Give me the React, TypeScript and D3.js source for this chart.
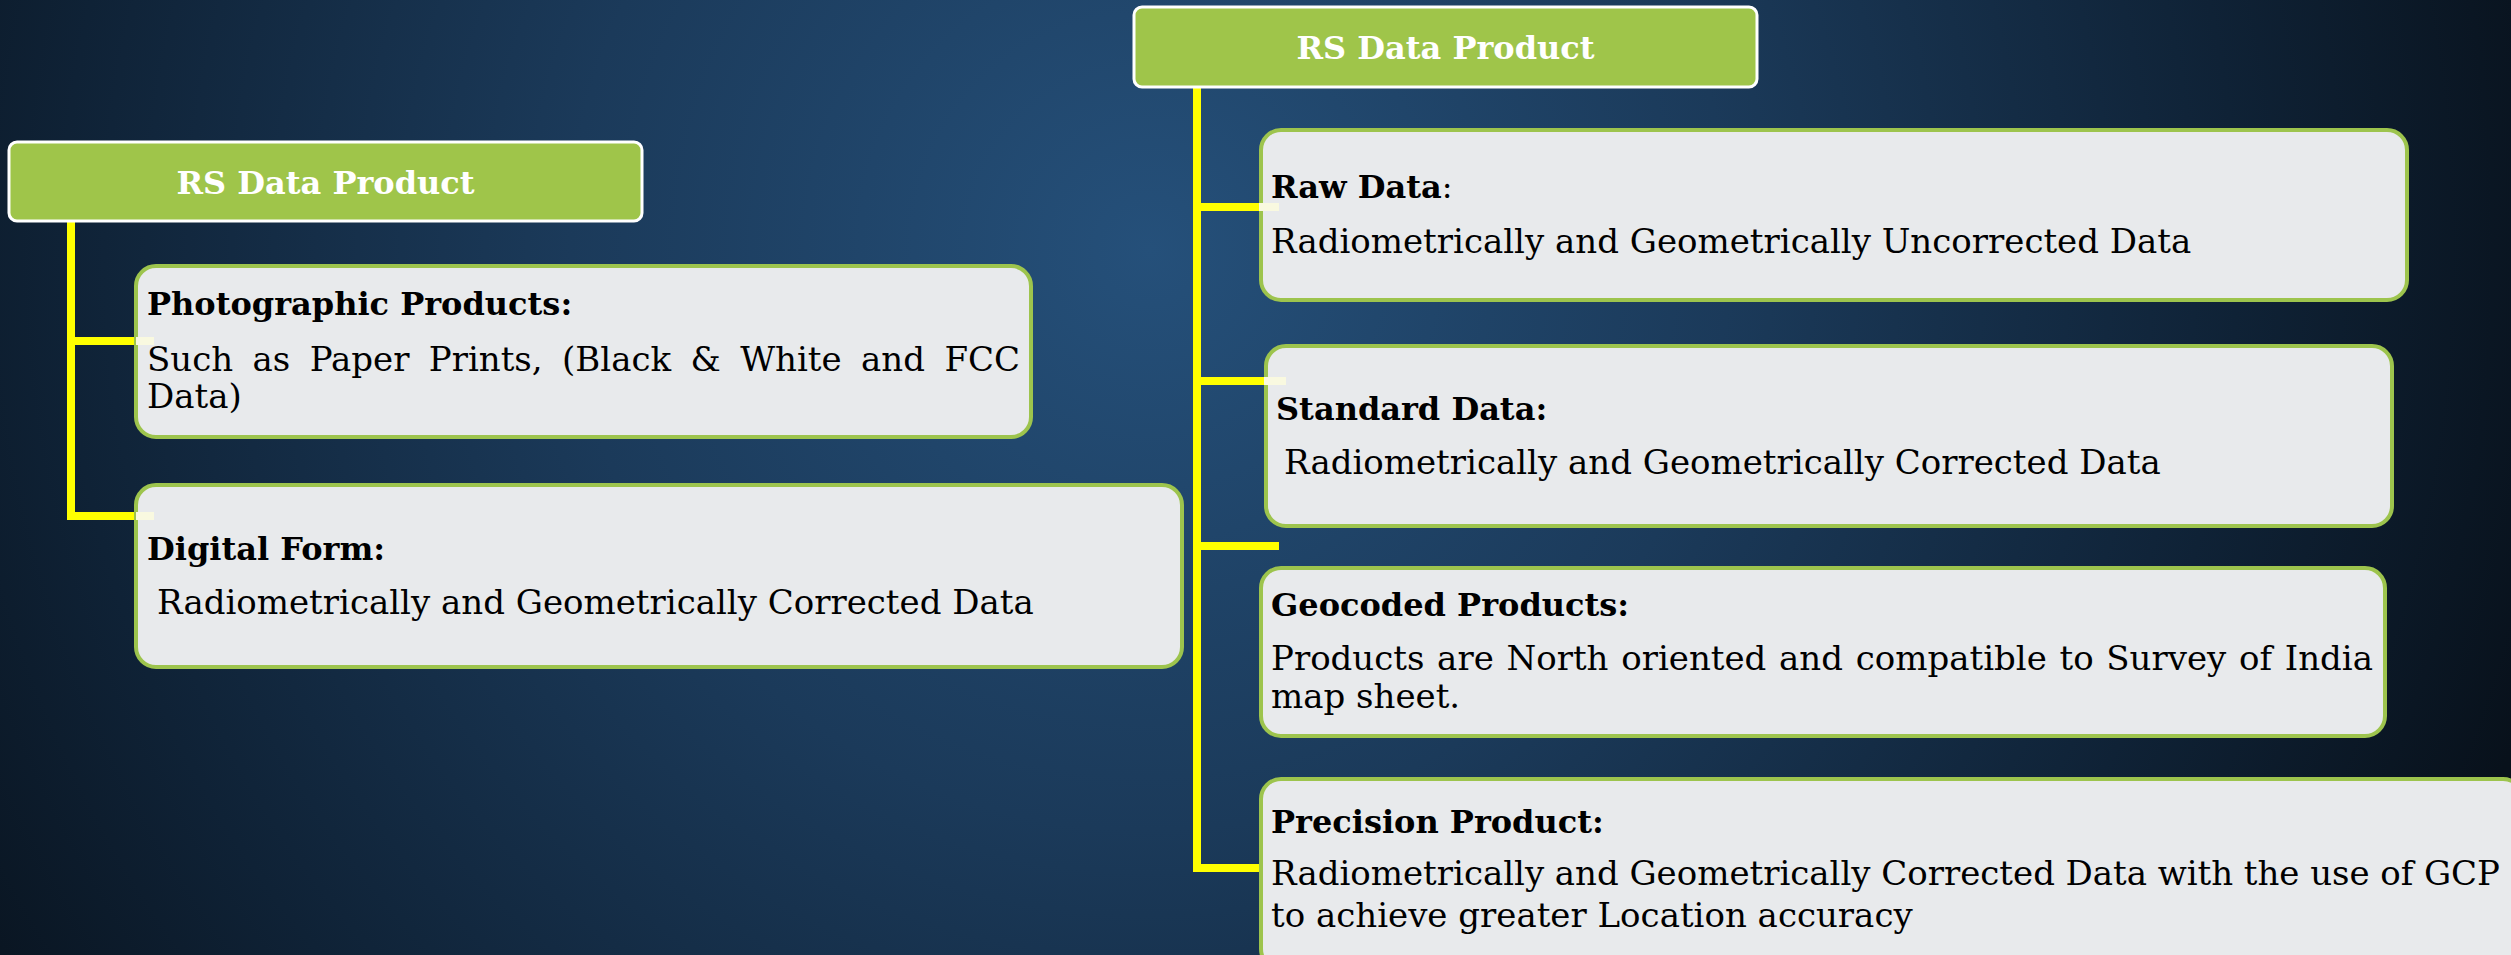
import React, { useEffect, useRef } from 'react'
import * as d3 from 'd3'

const W = 2511
const H = 955

// Text content
const headerTitles = ['RS Data Product', 'RS Data Product']
const leftTitles = ['Photographic Products:', 'Digital Form:']
const leftTails = ['', '']
const leftLines = [
  ['Such as Paper Prints, (Black & White and FCC', 'Data)'],
  ['Radiometrically and Geometrically Corrected Data'],
]
const rightTitles = ['Raw Data', 'Standard Data:', 'Geocoded Products:', 'Precision Product:']
const rightTails = [':', '', '', '']
const rightLines = [
  ['Radiometrically and Geometrically Uncorrected Data'],
  ['Radiometrically and Geometrically Corrected Data'],
  ['Products are North oriented and compatible to Survey of India', 'map sheet.'],
  ['Radiometrically and Geometrically Corrected Data with the use of GCP', 'to achieve greater Location accuracy'],
]

// Layout (pixels)
const headerBoxes = [
  { x: 9, y: 142, w: 633, h: 79 },
  { x: 1134, y: 7, w: 623, h: 80 },
]
const leftBoxes = [
  { x: 136, y: 266, w: 895, h: 171, tx: 147, ty: 315, bx: 147, by: [371, 408], justify: [1020, 0] },
  { x: 136, y: 485, w: 1046, h: 182, tx: 147, ty: 560, bx: 157, by: [614], justify: [0] },
]
const rightBoxes = [
  { x: 1261, y: 130, w: 1146, h: 170, tx: 1271, ty: 198, bx: 1271, by: [253], justify: [0] },
  { x: 1266, y: 346, w: 1126, h: 180, tx: 1276, ty: 420, bx: 1284, by: [474], justify: [0] },
  { x: 1261, y: 568, w: 1124, h: 168, tx: 1271, ty: 616, bx: 1271, by: [670, 708], justify: [2373, 0] },
  { x: 1261, y: 779, w: 1262, h: 190, tx: 1271, ty: 833, bx: 1271, by: [885, 927], justify: [2500, 0] },
]
const leftTrunk = { x: 71, y0: 221, y1: 516 }
const leftBranches = [
  { y: 341, x0: 136, x1: 154 },
  { y: 516, x0: 136, x1: 154 },
]
const rightTrunk = { x: 1197, y0: 87, y1: 868 }
const rightBranches = [
  { y: 207, x0: 1259, x1: 1279 },
  { y: 381, x0: 1264, x1: 1286 },
  { y: 546, x0: 1279, x1: 1279 },
  { y: 868, x0: 1260, x1: 1260 },
]

const FONT = "'DejaVu Serif', 'Liberation Serif', serif"
const BODY = 34
const TITLE = 32

export default function App() {
  const svgRef = useRef<SVGSVGElement>(null)

  useEffect(() => {
    document.body.style.margin = '0'
    const svg = d3.select(svgRef.current)
    svg.selectAll('*').remove()

    const defs = svg.append('defs')
    const grad = defs.append('radialGradient')
      .attr('id', 'bg')
      .attr('gradientUnits', 'userSpaceOnUse')
      .attr('cx', 1150).attr('cy', 250).attr('r', 1450)
    grad.append('stop').attr('offset', 0).attr('stop-color', '#25507a')
    grad.append('stop').attr('offset', 0.4).attr('stop-color', '#1b3a5a')
    grad.append('stop').attr('offset', 0.75).attr('stop-color', '#0f2236')
    grad.append('stop').attr('offset', 1).attr('stop-color', '#08111b')

    svg.append('rect').attr('width', W).attr('height', H).attr('fill', 'url(#bg)')

    // connectors
    const line = d3.line<[number, number]>()
    const conn = svg.append('g')
      .attr('fill', 'none')
      .attr('stroke', '#ffff00')
      .attr('stroke-width', 8)
    const drawTree = (trunk: any, branches: any[]) => {
      conn.append('path').attr('d', line([[trunk.x, trunk.y0], [trunk.x, trunk.y1 + 4]]))
      branches.forEach(b => {
        conn.append('path').attr('d', line([[trunk.x - 4, b.y], [b.x0, b.y]]))
      })
    }
    drawTree(leftTrunk, leftBranches)
    drawTree(rightTrunk, rightBranches)

    // headers
    headerBoxes.forEach((b, i) => {
      svg.append('rect')
        .attr('x', b.x).attr('y', b.y).attr('width', b.w).attr('height', b.h)
        .attr('rx', 8)
        .attr('fill', '#9fc54a')
        .attr('stroke', '#ffffff')
        .attr('stroke-width', 3)
      svg.append('text')
        .attr('x', b.x + b.w / 2)
        .attr('y', b.y + b.h / 2 + 12)
        .attr('text-anchor', 'middle')
        .attr('font-family', FONT)
        .attr('font-weight', 'bold')
        .attr('font-size', 32)
        .attr('fill', '#ffffff')
        .text(headerTitles[i])
    })

    const drawBoxes = (boxes: any[], titles: string[], tails: string[], lines: string[][]) => {
      boxes.forEach((b, i) => {
        svg.append('rect')
          .attr('x', b.x).attr('y', b.y).attr('width', b.w).attr('height', b.h)
          .attr('rx', 20)
          .attr('fill', '#e8eaec')
          .attr('stroke', '#9dc44d')
          .attr('stroke-width', 4)
        const t = svg.append('text')
          .attr('x', b.tx).attr('y', b.ty)
          .attr('font-family', FONT)
          .attr('font-size', TITLE)
          .attr('fill', '#000')
        t.append('tspan').attr('font-weight', 'bold').text(titles[i])
        if (tails[i]) t.append('tspan').text(tails[i])

        lines[i].forEach((ln, j) => {
          const end = b.justify[j]
          if (!end) {
            svg.append('text')
              .attr('x', b.bx).attr('y', b.by[j])
              .attr('font-family', FONT)
              .attr('font-size', BODY)
              .attr('fill', '#000')
              .text(ln)
            return
          }
          // justified line: spread words across the box width
          const words = ln.split(' ')
          const nodes = words.map(w => svg.append('text')
            .attr('y', b.by[j])
            .attr('font-family', FONT)
            .attr('font-size', BODY)
            .attr('fill', '#000')
            .text(w))
          const widths = nodes.map(n => (n.node() as SVGTextElement).getComputedTextLength())
          const total = d3.sum(widths)
          const gap = Math.max(6, (end - b.bx - total) / (words.length - 1))
          let x = b.bx
          nodes.forEach((n, k) => {
            n.attr('x', x)
            x += widths[k] + gap
          })
        })
      })
    }
    drawBoxes(leftBoxes, leftTitles, leftTails, leftLines)
    drawBoxes(rightBoxes, rightTitles, rightTails, rightLines)

    // pale tips where the connectors run into the boxes
    const tips = svg.append('g').attr('stroke', '#f9f9e0').attr('stroke-width', 8)
    leftBranches.concat(rightBranches).filter(b => b.x1 > b.x0).forEach(b => {
      tips.append('path').attr('d', line([[b.x0, b.y], [b.x1, b.y]]))
    })
  }, [])

  return (
    <svg ref={svgRef} width={W} height={H} style={{ display: 'block' }} />
  )
}
